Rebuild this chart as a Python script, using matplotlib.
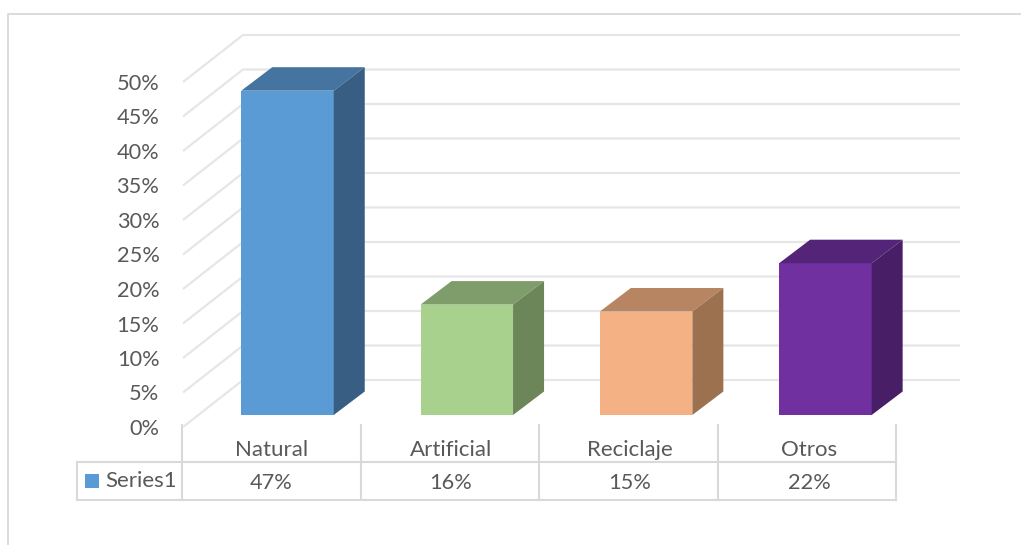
import matplotlib
matplotlib.use("Agg")
import matplotlib.pyplot as plt
from matplotlib.patches import Polygon, Rectangle

plt.rcParams['font.family'] = ['Lato', 'DejaVu Sans']

categories = ["Natural", "Artificial", "Reciclaje", "Otros"]
values = [47, 16, 15, 22]
value_labels = ["47%", "16%", "15%", "22%"]
series_name = "Series1"
y_ticks = [0, 5, 10, 15, 20, 25, 30, 35, 40, 45, 50]
y_labels = ["0%", "5%", "10%", "15%", "20%", "25%", "30%", "35%", "40%", "45%", "50%"]
front_colors = ["#5B9BD5", "#A9D18E", "#F4B183", "#7030A0"]
top_colors = ["#44749F", "#7F9D6B", "#B78562", "#542478"]
side_colors = ["#385F83", "#6C8559", "#9C7150", "#481F67"]

W, H = 1021, 545
PX_X = 179.3   # pixels per category
PX_Y = 6.9     # pixels per percent
X0 = 287.5     # pixel of category 0 bar
CELL = 271.5   # pixel of category 0 table cell centre
Y0 = 427       # pixel of 0%
TEXT = "#595959"
GRID = "#E6E6E6"
TBL = "#D9D9D9"

fig = plt.figure(figsize=(W / 100, H / 100), dpi=100, facecolor="white")

ov = fig.add_axes([0, 0, 1, 1], zorder=0)
ov.set_xlim(0, W)
ov.set_ylim(H, 0)
ov.axis("off")

ov.plot([7.5, 7.5, W], [H, 14, 14], color="#D9D9D9", lw=1.3)

for y in (462, 500):
    ov.plot([77, 896], [y, y], color=TBL, lw=1.5)
ov.plot([77, 77], [462, 500], color=TBL, lw=1.5)
for x in (182, 361, 539, 718, 896):
    ov.plot([x, x], [425, 500], color=TBL, lw=1.5)
ov.add_patch(Rectangle((85, 474), 14, 14, color=front_colors[0], lw=0))
ov.text(105, 481, series_name, color=TEXT, fontsize=16, va="center", ha="left")

left_px, right_px, top_px = 183, 960, 14
ax = fig.add_axes([left_px / W, (H - Y0) / H, (right_px - left_px) / W, (Y0 - top_px) / H], zorder=1)
ax.set_xlim((left_px - X0) / PX_X, (right_px - X0) / PX_X)
ax.set_ylim(0, (Y0 - top_px) / PX_Y)
ax.patch.set_alpha(0)
for s in ax.spines.values():
    s.set_visible(False)

cell_off = (CELL - X0) / PX_X
ax.set_yticks(y_ticks)
ax.set_yticklabels(y_labels, color=TEXT, fontsize=15.7)
ax.tick_params(axis="y", length=0, pad=17)
ax.set_xticks([i + cell_off for i in range(len(categories))])
ax.set_xticklabels(categories, color=TEXT, fontsize=16)
ax.tick_params(axis="x", length=0, pad=9.5)
for i, lab in enumerate(value_labels):
    ax.text(i + cell_off, -(483 - Y0) / PX_Y, lab, color=TEXT, fontsize=15.7,
            ha="center", va="center", clip_on=False)

dep_x = 60 / PX_X
dep_y = 47 / PX_Y
xl = (left_px - X0) / PX_X
xr = (right_px - X0) / PX_X
for t in y_ticks:
    ax.plot([xl, xl + dep_x, xr], [t, t + dep_y, t + dep_y], color=GRID, lw=1.6,
            solid_joinstyle="miter", solid_capstyle="butt", zorder=1, clip_on=False)

bw = 92.5 / PX_X
bx = 31 / PX_X
by = 23.5 / PX_Y
base = 12 / PX_Y
for i, v in enumerate(values):
    l, r = i - bw / 2, i + bw / 2
    ax.bar(i, v, width=bw, bottom=base, color=front_colors[i], linewidth=0, zorder=3)
    top = base + v
    ax.add_patch(Polygon([(l, top), (r, top), (r + bx, top + by), (l + bx, top + by)],
                         closed=True, facecolor=top_colors[i], edgecolor="none", zorder=3))
    ax.add_patch(Polygon([(r, base), (r + bx, base + by), (r + bx, top + by), (r, top)],
                         closed=True, facecolor=side_colors[i], edgecolor="none", zorder=3))

fig.savefig("out.png", dpi=100)
